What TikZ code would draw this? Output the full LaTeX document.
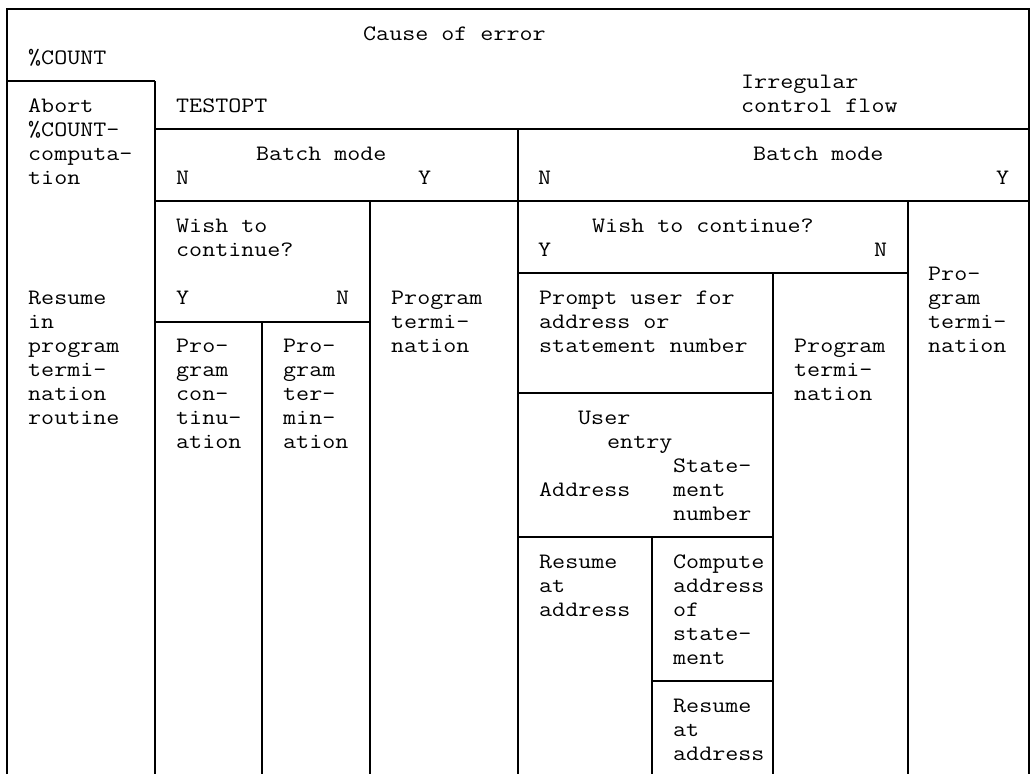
\documentclass[tikz,border=0pt]{standalone}
\usepackage{fontspec}
\setmonofont{Latin Modern Mono}[FakeStretch=1.15]
\newcommand\mlines[1]{\begin{tabular}[t]{@{}l@{}}#1\end{tabular}}
\begin{document}
\begin{tikzpicture}[x=1pt,y=-1pt,
  rule/.style={line width=2.5pt},
  txt/.style={anchor=base west,inner sep=0pt,font=\ttfamily\fontsize{22}{24}\selectfont}]
\useasboundingbox (0,0) rectangle (1032,774);
% grid lines
\draw[rule] (7,774) -- (7,9) -- (1029,9) -- (1029,774);
\draw[rule] (7,81) -- (155,81);
\draw[rule] (155,81) -- (155,774);
\draw[rule] (155,129) -- (1029,129);
\draw[rule] (518,129) -- (518,774);
\draw[rule] (155,201) -- (1029,201);
\draw[rule] (370,201) -- (370,774);
\draw[rule] (155,322) -- (370,322);
\draw[rule] (262,322) -- (262,774);
\draw[rule] (908,201) -- (908,774);
\draw[rule] (518,273) -- (908,273);
\draw[rule] (773,273) -- (773,774);
\draw[rule] (518,393) -- (773,393);
\draw[rule] (518,537) -- (773,537);
\draw[rule] (652,537) -- (652,774);
\draw[rule] (652,681) -- (773,681);
% texts
\node[txt] (cause) at (363,40) {Cause of error};
\node[txt] (count) at (28,64) {\%COUNT};
\node[txt] (abort) at (28,112) {\mlines{Abort\\\%COUNT-\\computa-\\tion}};
\node[txt] (testopt) at (176,112) {TESTOPT};
\node[txt] (irreg) at (741,88) {\mlines{Irregular\\control flow}};
\node[txt] (bm1) at (256,160) {Batch mode};
\node[txt] (bmn1) at (176,184) {N};
\node[txt] (bmy1) at (418,184) {Y};
\node[txt] (bm2) at (753,160) {Batch mode};
\node[txt] (bmn2) at (538,184) {N};
\node[txt] (bmy2) at (996,184) {Y};
\node[txt] (wish1) at (176,232) {\mlines{Wish to\\continue?}};
\node[txt] (wy1) at (176,304) {Y};
\node[txt] (wn1) at (336,304) {N};
\node[txt] (resume) at (28,304) {\mlines{Resume\\in\\program\\termi-\\nation\\routine}};
\node[txt] (pt1) at (391,304) {\mlines{Program\\termi-\\nation}};
\node[txt] (pcont) at (176,352) {\mlines{Pro-\\gram\\con-\\tinu-\\ation}};
\node[txt] (pterm) at (283,352) {\mlines{Pro-\\gram\\ter-\\min-\\ation}};
\node[txt] (wish2) at (592,232) {Wish to continue?};
\node[txt] (wy2) at (538,256) {Y};
\node[txt] (wn2) at (874,256) {N};
\node[txt] (prompt) at (539,304) {\mlines{Prompt user for\\address or\\statement number}};
\node[txt] (pt3) at (928,280) {\mlines{Pro-\\gram\\termi-\\nation}};
\node[txt] (pt2) at (794,352) {\mlines{Program\\termi-\\nation}};
\node[txt] (user) at (578,424) {User};
\node[txt] (entry) at (607,448) {entry};
\node[txt] (stmt) at (673,472) {\mlines{State-\\ment\\number}};
\node[txt] (addr) at (539,496) {Address};
\node[txt] (resat1) at (539,568) {\mlines{Resume\\at\\address}};
\node[txt] (compute) at (673,568) {\mlines{Compute\\address\\of\\state-\\ment}};
\node[txt] (resat2) at (673,712) {\mlines{Resume\\at\\address}};
\end{tikzpicture}
\end{document}
